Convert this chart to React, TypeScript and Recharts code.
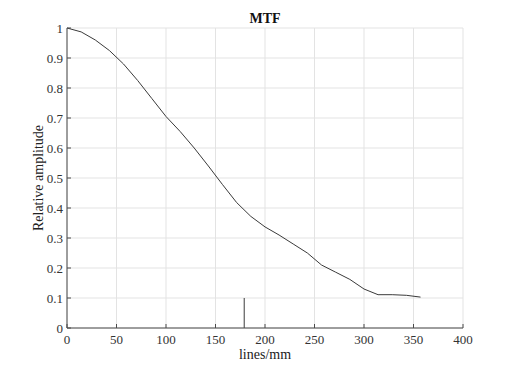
import { CartesianGrid, Line, LineChart, XAxis, YAxis } from "recharts";

const freq = [
  0, 14.3, 28.6, 42.8, 57.1, 71.4, 85.7, 100, 114.3, 128.5, 142.8, 157.1, 171.4,
  185.7, 200, 214.2, 228.5, 242.8, 257.1, 271.4, 285.7, 300, 314.2, 328.5, 342.8, 357.1
];
const mtf = [
  1.0, 0.987, 0.96, 0.925, 0.88, 0.825, 0.765, 0.705, 0.655, 0.6, 0.54, 0.478, 0.418,
  0.372, 0.337, 0.31, 0.28, 0.25, 0.21, 0.186, 0.162, 0.13, 0.111, 0.111, 0.109, 0.103
];
const markerX = [179, 179];
const markerY = [0, 0.1];

const xTicks = [0, 50, 100, 150, 200, 250, 300, 350, 400];
const yTicks = [0, 0.1, 0.2, 0.3, 0.4, 0.5, 0.6, 0.7, 0.8, 0.9, 1];

const curve = freq.map((x, i) => ({ x, y: mtf[i] }));
const marker = markerX.map((x, i) => ({ x, y: markerY[i] }));

const font = "'Liberation Serif', serif";
const axisColor = "#4a4a4a";
const tickText = { fill: "#333", fontSize: 13, fontFamily: font };
const blank = () => "";

export default function App() {
  return (
    <div style={{ position: "absolute", left: 0, top: 0, width: 512, height: 369, background: "#fff" }}>
      <LineChart width={512} height={369} margin={{ top: 28, right: 49, bottom: 0, left: 0 }}>
        <text x={265} y={23} textAnchor="middle" fontFamily={font} fontWeight="bold" fontSize={14} fill="#111">
          MTF
        </text>
        <CartesianGrid stroke="#e3e3e3" />
        <XAxis
          type="number"
          dataKey="x"
          domain={[0, 400]}
          ticks={xTicks}
          height={41}
          tickSize={-4}
          tickMargin={11}
          stroke={axisColor}
          tick={tickText}
          label={{ value: "lines/mm", position: "insideBottom", offset: 10, fontSize: 14, fontFamily: font, fill: "#222" }}
        />
        <XAxis
          xAxisId="top"
          orientation="top"
          type="number"
          dataKey="x"
          domain={[0, 400]}
          ticks={xTicks}
          height={0}
          tickSize={-4}
          tickFormatter={blank}
          stroke={axisColor}
        />
        <YAxis
          type="number"
          domain={[0, 1]}
          ticks={yTicks}
          width={67}
          tickSize={-4}
          tickMargin={8}
          stroke={axisColor}
          tick={tickText}
          tickFormatter={(v: number) => String(Math.round(v * 10) / 10)}
          label={{
            value: "Relative amplitude",
            angle: -90,
            position: "insideLeft",
            offset: 38,
            fontSize: 14,
            fontFamily: font,
            fill: "#222",
            style: { textAnchor: "middle" }
          }}
        />
        <YAxis
          yAxisId="right"
          orientation="right"
          type="number"
          domain={[0, 1]}
          ticks={yTicks}
          width={0}
          tickSize={-4}
          tickFormatter={blank}
          stroke={axisColor}
        />
        <Line data={curve} dataKey="y" type="linear" stroke="#3a3a3a" strokeWidth={1} dot={false} isAnimationActive={false} />
        <Line data={marker} dataKey="y" type="linear" stroke="#3a3a3a" strokeWidth={1} dot={false} isAnimationActive={false} />
      </LineChart>
    </div>
  );
}
